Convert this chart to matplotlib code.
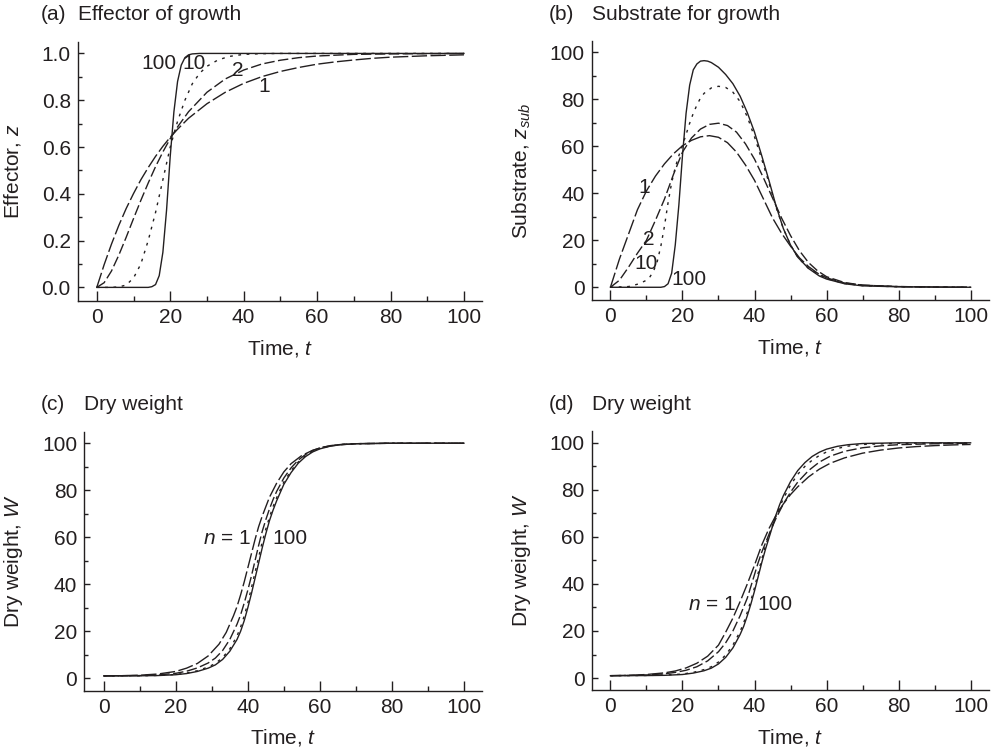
import matplotlib
matplotlib.use('Agg')
import matplotlib.pyplot as plt
from matplotlib.ticker import MultipleLocator, FormatStrFormatter

# (a) effector z, curves for n = 1, 2, 10, 100
a_t1 = [0, 2, 4, 6, 8, 10, 12, 14, 16, 18, 20, 22, 25, 30, 35, 40, 45, 50, 55, 60, 65, 70, 75, 80, 85, 90, 95, 100]
a_z1 = [0, 0.097, 0.185, 0.265, 0.337, 0.401, 0.460, 0.512, 0.560, 0.603, 0.642, 0.676, 0.723, 0.785, 0.834,
        0.872, 0.901, 0.923, 0.940, 0.954, 0.964, 0.972, 0.979, 0.984, 0.987, 0.990, 0.992, 0.994]
a_t2 = [0, 2, 4, 6, 8, 10, 12, 14, 16, 18, 20, 22, 25, 30, 35, 40, 45, 50, 55, 60, 70, 80, 90, 100]
a_z2 = [0, 0.020, 0.070, 0.138, 0.214, 0.294, 0.372, 0.446, 0.516, 0.579, 0.636, 0.686, 0.751, 0.834, 0.891,
        0.929, 0.955, 0.971, 0.982, 0.989, 0.996, 0.998, 0.999, 1.0]
a_t10 = [0, 4, 6, 8, 10, 12, 14, 16, 18, 20, 22, 24, 26, 28, 30, 33, 36, 40, 45, 50, 60, 100]
a_z10 = [0, 0.0, 0.002, 0.01, 0.04, 0.1, 0.2, 0.32, 0.46, 0.6, 0.71, 0.8, 0.87, 0.915, 0.945, 0.972, 0.987,
         0.996, 0.999, 1.0, 1.0, 1.0]
a_t100 = [0, 10, 14, 15, 16, 17, 18, 19, 20, 21, 22, 23, 24, 25, 26, 28, 100]
a_z100 = [0, 0, 0, 0.003, 0.012, 0.05, 0.15, 0.33, 0.56, 0.75, 0.88, 0.95, 0.982, 0.994, 0.998, 1.0, 1.0]

# (b) substrate z_sub
b_t1 = [0, 2.5, 5, 7.5, 10, 12.5, 15, 17.5, 20, 22.5, 25, 27.5, 30, 32.5, 35, 37.5, 40, 42.5, 45, 47.5, 50,
        52.5, 55, 57.5, 60, 65, 70, 80, 90, 100]
b_z1 = [0, 12, 22.5, 33, 41, 47.3, 52.5, 56.8, 60.2, 62.5, 64, 64.5, 63.8, 61.5, 57.5, 52, 45.5, 37.5, 29.5,
        23, 17.5, 12.5, 8.8, 6, 4, 1.8, 0.9, 0.3, 0.1, 0]
b_t2 = [0, 2.5, 5, 7.5, 10, 12.5, 15, 17.5, 20, 22.5, 25, 27.5, 30, 32.5, 35, 37.5, 40, 42.5, 45, 47.5, 50,
        52.5, 55, 57.5, 60, 65, 70, 80, 90, 100]
b_z2 = [0, 3, 8.5, 14.5, 20, 28.5, 37.5, 48, 57.5, 63.5, 67.3, 69.3, 69.8, 68.8, 66, 61, 54.5, 46.5, 38,
        29.5, 22, 15.5, 10.5, 7, 4.5, 2, 0.9, 0.3, 0.1, 0]
b_t10 = [0, 5, 8, 10, 11, 12, 13, 14, 15, 16, 17, 18, 19, 20, 21, 22, 23, 24, 25, 26, 28, 30, 32, 34, 36,
         38, 40, 42, 44, 46, 48, 50, 52, 55, 60, 65, 70, 80, 100]
b_z10 = [0, 0.3, 1.5, 3, 4.5, 7, 11, 17.5, 26, 36, 44.5, 51, 56, 60.3, 65, 69.8, 74, 77.5, 80.5, 82.5, 84.8,
         85.5, 85, 83, 79, 72.5, 64, 54.5, 44.5, 34, 25, 18, 12.8, 8, 3.7, 1.6, 0.7, 0.2, 0]
b_t100 = [0, 14, 15, 16, 17, 18, 19, 20, 21, 22, 23, 24, 25, 26, 27, 28, 30, 32, 34, 36, 38, 40, 42, 44, 46,
          48, 50, 52, 55, 58, 60, 65, 70, 80, 100]
b_z100 = [0, 0, 0.3, 1.5, 6, 18, 35, 56, 74, 86, 92.5, 95, 96.2, 96.4, 96.2, 95.6, 93.6, 90.5, 86.6, 81.3,
          74.3, 66, 56, 45.5, 34.5, 25, 18, 12.8, 8, 4.8, 3.5, 1.5, 0.6, 0.2, 0]

# (c) dry weight W
c_t1 = [0, 5, 10, 15, 20, 23, 26, 29, 32, 34, 36, 37, 38, 39, 40, 41, 42, 43, 44, 46, 48, 50, 52, 55, 58,
        61, 65, 70, 80, 100]
c_w1 = [1.0, 1.1, 1.3, 1.8, 2.9, 4.3, 6.3, 9.5, 14.5, 19.5, 26.5, 30.5, 35.5, 41, 47, 53, 59, 64.5, 69, 77,
        83, 87.8, 91.3, 94.8, 97, 98.4, 99.3, 99.8, 100, 100]
c_t2 = [0, 10, 15, 20, 23, 26, 29, 31, 33, 35, 37, 38, 39, 40, 41, 42, 43, 44, 45, 46, 47, 48, 50, 52, 54,
        56, 58, 60, 63, 66, 70, 80, 100]
c_w2 = [1.0, 1.15, 1.4, 2.1, 3.0, 4.4, 6.5, 8.6, 11.8, 16.5, 23, 27, 32, 37.5, 43.5, 50, 56.5, 62.5, 67.5,
        72, 76, 79.5, 85.2, 89.5, 92.8, 95.2, 96.9, 98, 99, 99.5, 99.8, 100, 100]
c_t10 = [0, 10, 15, 20, 23, 26, 29, 31, 33, 35, 37, 38, 39, 40, 41, 42, 43, 44, 45, 46, 47, 48, 50, 52, 54,
         56, 58, 60, 63, 66, 70, 80, 100]
c_w10 = [1.0, 1.07, 1.2, 1.6, 2.2, 3.2, 4.8, 6.3, 8.8, 12.5, 18, 21.8, 26.5, 32, 38.5, 45, 51.5, 58, 63.5,
         68.5, 73, 76.8, 83.5, 88.3, 92, 94.7, 96.6, 97.8, 98.9, 99.5, 99.8, 100, 100]
c_t100 = [0, 10, 15, 20, 23, 26, 29, 31, 33, 35, 37, 38, 39, 40, 41, 42, 43, 44, 45, 46, 47, 48, 50, 52,
          54, 56, 58, 60, 63, 66, 70, 80, 100]
c_w100 = [1.0, 1.05, 1.15, 1.5, 2.0, 2.9, 4.3, 5.7, 8.0, 11.5, 16.5, 20, 24.5, 30, 36, 42.5, 49, 55.5, 61.5,
          67, 71.5, 75.5, 82.5, 87.5, 91.5, 94.3, 96.3, 97.6, 98.8, 99.4, 99.8, 100, 100]

# (d) dry weight W
d_t1 = [0, 5, 10, 15, 18, 21, 24, 27, 30, 32, 34, 36, 38, 40, 42, 44, 46, 48, 50, 52, 55, 58, 61, 65, 70,
        75, 80, 85, 90, 95, 100]
d_w1 = [1.0, 1.15, 1.5, 2.2, 3.0, 4.3, 6.3, 9.3, 14, 19.5, 25.5, 32.5, 40, 48, 56.5, 63.5, 69.3, 74, 78,
        81.3, 85.5, 88.8, 91.3, 93.6, 95.6, 96.9, 97.8, 98.4, 98.8, 99.1, 99.3]
d_t2 = [0, 5, 10, 15, 18, 21, 24, 27, 30, 32, 34, 36, 38, 40, 41, 42, 44, 46, 48, 50, 52, 55, 58, 61, 65,
        70, 75, 80, 90, 100]
d_w2 = [1.0, 1.1, 1.3, 1.8, 2.4, 3.3, 4.8, 7.3, 11.2, 15, 20, 26.5, 34, 44, 49, 53.5, 61, 68, 74, 79, 83.3,
        88.2, 91.8, 94.3, 96.4, 97.9, 98.7, 99.2, 99.6, 99.8]
d_t10 = [0, 10, 15, 20, 23, 26, 28, 30, 32, 34, 36, 37, 38, 39, 40, 41, 42, 43, 44, 45, 46, 47, 48, 50, 52,
         54, 56, 58, 60, 63, 66, 70, 80, 100]
d_w10 = [1.0, 1.1, 1.25, 1.7, 2.4, 3.6, 4.8, 6.8, 9.8, 14, 19.8, 23.5, 28, 33, 38.5, 44.5, 50.5, 56, 60.5,
         65, 69, 72.8, 76.2, 82, 86.6, 90, 92.6, 94.6, 96.1, 97.6, 98.6, 99.3, 99.8, 100]
d_t100 = [0, 10, 15, 20, 23, 26, 28, 30, 32, 34, 36, 37, 38, 39, 40, 41, 42, 43, 44, 45, 46, 47, 48, 50,
          52, 54, 56, 58, 60, 63, 66, 70, 80, 100]
d_w100 = [1.0, 1.05, 1.15, 1.5, 2.1, 3.1, 4.2, 6.0, 8.8, 12.8, 18.5, 22, 26.5, 31.5, 37, 43, 49, 54.5, 59.5,
          64.5, 69.5, 73.8, 77.5, 83.5, 88.2, 91.6, 94.2, 96, 97.3, 98.5, 99.2, 99.7, 100, 100]

plt.rcParams['font.family'] = ['Liberation Sans', 'DejaVu Sans']
plt.rcParams['mathtext.fontset'] = 'custom'
plt.rcParams['mathtext.rm'] = 'Liberation Sans'
plt.rcParams['mathtext.it'] = 'Liberation Sans:italic'
ink = '#231f20'
fs = 15

# line style per n
ls = {1: (0, (11, 2.5)), 2: (0, (7.5, 2.5)), 10: (0, (2, 4)), 100: '-'}


def style_axes(ax, xlim, ylim, ymaj, ymin, ylabel, ylab_x=-0.148):
    ax.set_xlim(*xlim)
    ax.set_ylim(*ylim)
    for s in ['top', 'right']:
        ax.spines[s].set_visible(False)
    for s in ['left', 'bottom']:
        ax.spines[s].set_color(ink)
        ax.spines[s].set_linewidth(1.0)
    ax.xaxis.set_major_locator(MultipleLocator(20))
    ax.xaxis.set_minor_locator(MultipleLocator(10))
    ax.yaxis.set_major_locator(MultipleLocator(ymaj))
    ax.yaxis.set_minor_locator(MultipleLocator(ymin))
    ax.tick_params(axis='x', which='major', direction='in', length=7.5, width=1.0, color=ink,
                   labelsize=fs, labelcolor=ink, pad=5)
    ax.tick_params(axis='x', which='minor', direction='in', length=3.5, width=1.0, color=ink)
    ax.tick_params(axis='y', which='major', direction='in', length=4.5, width=1.0, color=ink,
                   labelsize=fs, labelcolor=ink, pad=5)
    ax.tick_params(axis='y', which='minor', direction='in', length=3, width=1.0, color=ink)
    ax.set_xlabel('Time, $t$', fontsize=fs, color=ink)
    ax.set_ylabel(ylabel, fontsize=fs, color=ink)
    ax.xaxis.set_label_coords(0.5, -0.142)
    ax.yaxis.set_label_coords(ylab_x, 0.5)


fig = plt.figure(figsize=(10, 7.52), dpi=100)

ax_a = fig.add_axes([0.0777, 0.6001, 0.4046, 0.3444])
ax_b = fig.add_axes([0.5917, 0.6011, 0.3973, 0.3448])
ax_c = fig.add_axes([0.0843, 0.0815, 0.3980, 0.3444])
ax_d = fig.add_axes([0.5917, 0.0824, 0.3973, 0.3444])

# panel a
ax_a.plot(a_t1, a_z1, color=ink, lw=1.0, ls=ls[1])
ax_a.plot(a_t2, a_z2, color=ink, lw=1.0, ls=ls[2])
ax_a.plot(a_t10, a_z10, color=ink, lw=1.0, ls=ls[10])
ax_a.plot(a_t100, a_z100, color=ink, lw=1.0, ls=ls[100])
style_axes(ax_a, (-5.2, 105), (-0.057, 1.05), 0.2, 0.1, 'Effector, $z$', ylab_x=-0.135)
ax_a.yaxis.set_major_formatter(FormatStrFormatter('%.1f'))
ax_a.text(16.8, 0.956, '100', fontsize=fs, color=ink, ha='center', va='center')
ax_a.text(26.4, 0.956, '10', fontsize=fs, color=ink, ha='center', va='center')
ax_a.text(38.5, 0.929, '2', fontsize=fs, color=ink, ha='center', va='center')
ax_a.text(45.5, 0.86, '1', fontsize=fs, color=ink, ha='center', va='center')

# panel b
ax_b.plot(b_t1, b_z1, color=ink, lw=1.0, ls=ls[1])
ax_b.plot(b_t2, b_z2, color=ink, lw=1.0, ls=ls[2])
ax_b.plot(b_t10, b_z10, color=ink, lw=1.0, ls=ls[10])
ax_b.plot(b_t100, b_z100, color=ink, lw=1.0, ls=ls[100])
style_axes(ax_b, (-5.2, 105.1), (-5.4, 104.9), 20, 10, 'Substrate, $z_{sub}$')
ax_b.text(9.35, 42.5, '1', fontsize=fs, color=ink, ha='center', va='center')
ax_b.text(10.7, 20.5, '2', fontsize=fs, color=ink, ha='center', va='center')
ax_b.text(9.86, 10.2, '10', fontsize=fs, color=ink, ha='center', va='center')
ax_b.text(21.8, 3.5, '100', fontsize=fs, color=ink, ha='center', va='center')

# panel c
ax_c.plot(c_t1, c_w1, color=ink, lw=1.0, ls=ls[1])
ax_c.plot(c_t2, c_w2, color=ink, lw=1.0, ls=ls[2])
ax_c.plot(c_t10, c_w10, color=ink, lw=1.0, ls=ls[10])
ax_c.plot(c_t100, c_w100, color=ink, lw=1.0, ls=ls[100])
style_axes(ax_c, (-5.4, 105.1), (-5.3, 104.9), 20, 10, 'Dry weight, $W$')
ax_c.text(40.8, 59.5, '$n$ = 1', fontsize=fs, color=ink, ha='right', va='center')
ax_c.text(46.8, 59.5, '100', fontsize=fs, color=ink, ha='left', va='center')

# panel d
ax_d.plot(d_t1, d_w1, color=ink, lw=1.0, ls=ls[1])
ax_d.plot(d_t2, d_w2, color=ink, lw=1.0, ls=ls[2])
ax_d.plot(d_t10, d_w10, color=ink, lw=1.0, ls=ls[10])
ax_d.plot(d_t100, d_w100, color=ink, lw=1.0, ls=ls[100])
style_axes(ax_d, (-5.2, 105.1), (-5.1, 105), 20, 10, 'Dry weight, $W$')
ax_d.text(34.9, 31.2, '$n$ = 1', fontsize=fs, color=ink, ha='right', va='center')
ax_d.text(40.9, 31.2, '100', fontsize=fs, color=ink, ha='left', va='center')

# panel headings
heads = [('(a)', 'Effector of growth', 41, 77.7, 15),
         ('(b)', 'Substrate for growth', 549, 591.7, 15),
         ('(c)', 'Dry weight', 41, 84.3, 405),
         ('(d)', 'Dry weight', 549, 591.7, 405)]
for tag, title, x0, x1, y in heads:
    fig.text(x0 / 1000, 1 - y / 752, tag, fontsize=fs, color=ink, ha='left', va='center')
    fig.text(x1 / 1000, 1 - y / 752, title, fontsize=fs, color=ink, ha='left', va='center')

fig.savefig('out.png', dpi=100)
